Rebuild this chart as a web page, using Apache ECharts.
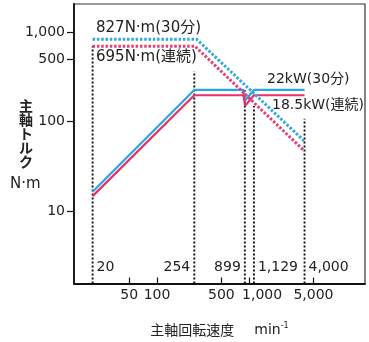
<!DOCTYPE html>
<html><head><meta charset="utf-8">
<script src="https://cdn.jsdelivr.net/npm/echarts@6/dist/echarts.min.js"></script>
<style>html,body{margin:0;padding:0;background:#fff}#c{width:369px;height:342px}</style>
</head><body><div id="c"></div>
<script>
// ---- data ----
const xTicks = [50, 100, 500, 1000, 5000];
const yTicks = [10, 100, 500, 1000];
const markSpeeds = [20, 254, 899, 1129, 4000];
const markTops = [695, 366, 226, 150, 108];
const markLabelSide = ['right', 'left', 'left', 'right', 'right'];
const powerSpeeds = [20, 254, 870, 905, 1129, 4000];
const power30 = [16.6, 226, 226, 172, 226, 226];
const powerCont = [14.8, 197, 197, 150, 197, 197];
const torque30Speeds = [20, 270, 4000];
const torque30 = [827, 827, 60.5];
const torqueContSpeeds = [20, 258, 4000];
const torqueCont = [695, 695, 47];
const labelTorque30 = '827N·m(30分)';
const labelTorqueCont = '695N·m(連続)';
const labelPower30 = '22kW(30分)';
const labelPowerCont = '18.5kW(連続)';
const X_MIN = 12.56, X_MAX = 18130, Y_MIN = 1.573, Y_MAX = 2049;

const FONT = "'DejaVu Sans', 'Noto Sans CJK JP', sans-serif";
const CJK = "'Noto Sans CJK JP', sans-serif";
const CYAN = '#27a6e0', PINK = '#e8306a';
const fmt = v => Number(v).toLocaleString('en-US');
const zip = (xs, ys) => xs.map((x, i) => [x, ys[i]]);

const series = [];
markSpeeds.forEach((s, i) => {
  series.push({
    type: 'line', silent: true, animation: false, z: 1,
    symbol: 'circle', symbolSize: 0, showSymbol: true,
    lineStyle: { color: '#111', width: 1.9, type: [2, 2] },
    data: [
      { value: [s, Y_MIN], label: { show: true, position: markLabelSide[i], distance: 4, offset: [0, -16],
        formatter: fmt(s), color: '#222', fontSize: 14, fontFamily: FONT } },
      { value: [s, markTops[i]] }
    ]
  });
});
const lineSeries = (data, color, dotted) => ({
  type: 'line', silent: true, animation: false, symbol: 'none', z: dotted ? 3 : 2,
  lineStyle: dotted ? { color, width: 3, type: [2.5, 1.8] } : { color, width: 2.2 },
  data
});
series.push(lineSeries(zip(powerSpeeds, power30), CYAN, false));
series.push(lineSeries(zip(powerSpeeds, powerCont), PINK, false));
series.push(lineSeries(zip(torque30Speeds, torque30), '#2fa9e2', true));
series.push(lineSeries(zip(torqueContSpeeds, torqueCont), '#e23f78', true));

const txt = (x, y, text, size) => ({
  type: 'text', left: x, top: y - size * 0.62, silent: true,
  style: { text, fontSize: size, fontFamily: FONT, fill: '#222' }
});

const chart = echarts.init(document.getElementById('c'), null, { renderer: 'canvas' });
chart.setOption({
  animation: false,
  backgroundColor: '#fff',
  grid: { left: 74, top: 4, right: 4, bottom: 55, show: true, borderColor: '#333', borderWidth: 1.2 },
  xAxis: {
    type: 'log', min: X_MIN, max: X_MAX,
    axisLine: { lineStyle: { color: '#111', width: 1.8 } },
    axisTick: { inside: true, length: 6, customValues: xTicks, lineStyle: { color: '#111', width: 1.2 } },
    axisLabel: {
      customValues: xTicks, margin: 5, color: '#222', fontSize: 14, fontFamily: FONT,
      formatter: v => (v === 1000 ? '{s|' + fmt(v) + '}' : fmt(v)),
      rich: { s: { fontSize: 14, fontFamily: FONT, color: '#222', padding: [0, 0, 0, 26] } }
    },
    splitLine: { show: false },
    name: '{a|主軸回転速度}      {b|min}{c|-1}',
    nameLocation: 'middle', nameGap: 38,
    nameTextStyle: {
      rich: {
        a: { fontSize: 14, fontFamily: CJK, color: '#222' },
        b: { fontSize: 14, fontFamily: FONT, color: '#222' },
        c: { fontSize: 8, fontFamily: FONT, color: '#222', padding: [0, 0, 9, 0] }
      }
    }
  },
  yAxis: {
    type: 'log', min: Y_MIN, max: Y_MAX,
    axisLine: { show: true, lineStyle: { color: '#111', width: 1.8 } },
    axisTick: { show: true, inside: false, length: 7, customValues: yTicks, lineStyle: { color: '#111', width: 1.2 } },
    axisLabel: { customValues: yTicks, margin: 9, color: '#222', fontSize: 14, fontFamily: FONT, formatter: fmt },
    splitLine: { show: false }
  },
  graphic: [
    txt(96, 29.5, labelTorque30, 15),
    txt(96, 59, labelTorqueCont, 15),
    txt(267, 81, labelPower30, 14),
    txt(272, 107, labelPowerCont, 14),
    { type: 'text', left: 19, top: 99, silent: true,
      style: { text: '主\n軸\nト\nル\nク', fontSize: 14, lineHeight: 14, fontFamily: CJK, fill: '#222', fontWeight: 'bold' } },
    { type: 'text', left: 10, top: 177, silent: true,
      style: { text: 'N·m', fontSize: 15, fontFamily: FONT, fill: '#222' } }
  ],
  series
});
</script></body></html>
